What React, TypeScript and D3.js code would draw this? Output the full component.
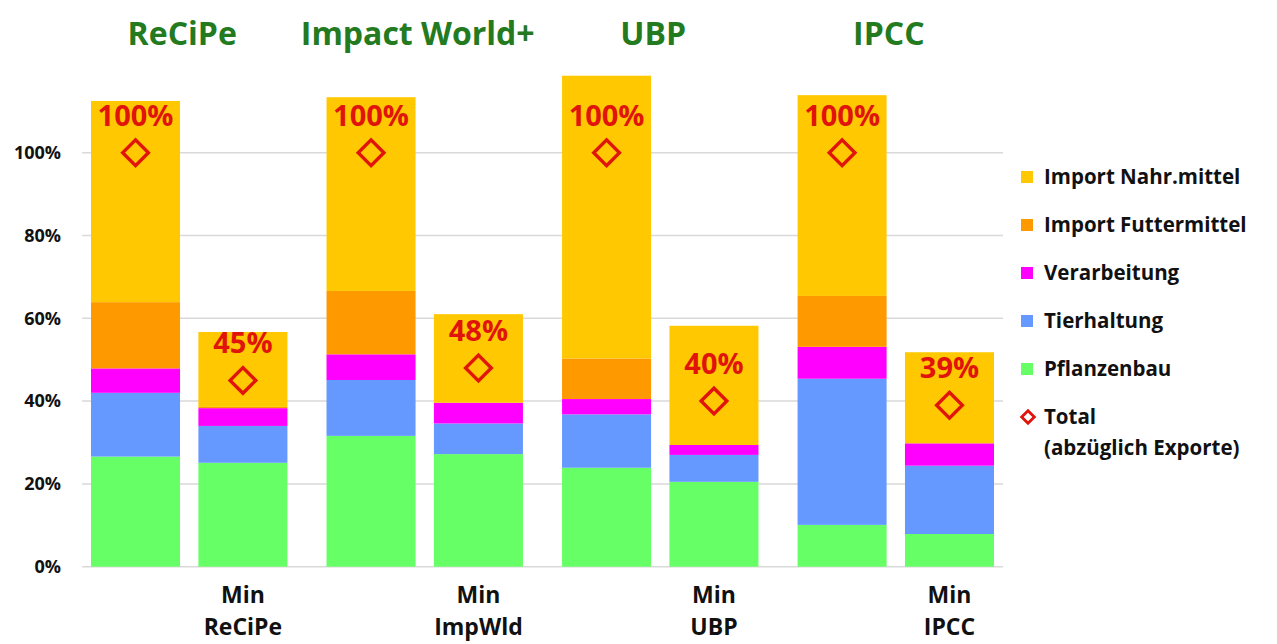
import * as d3 from "d3";

// Kategorien
const groups = ["ReCiPe", "Impact World+", "UBP", "IPCC"];
const minLabels = ["ReCiPe", "ImpWld", "UBP", "IPCC"];
const variants = ["Basis", "Min"];

// Werte in % (je Balken: ReCiPe, Min ReCiPe, ImpWld, Min ImpWld, UBP, Min UBP, IPCC, Min IPCC)
const pflanzenbau = [26.6, 25.1, 31.6, 27.2, 23.9, 20.5, 10.1, 7.9];
const tierhaltung = [15.4, 8.9, 13.5, 7.4, 12.9, 6.5, 35.3, 16.5];
const verarbeitung = [5.9, 4.3, 6.2, 5.0, 3.7, 2.4, 7.7, 5.4];
const importFutter = [16.0, 0.3, 15.3, 0, 9.8, 0, 12.3, 0];
const importNahr = [48.6, 18.1, 46.8, 21.4, 68.3, 28.8, 48.5, 22.0];
const total = [100, 45, 100, 48, 100, 40, 100, 39];

const yTicks = [0, 20, 40, 60, 80, 100];

const seriesNames = ["Pflanzenbau", "Tierhaltung", "Verarbeitung", "Import Futtermittel", "Import Nahr.mittel"];
const seriesColors = ["#66ff66", "#6699ff", "#ff00ff", "#ff9900", "#ffc800"];

const W = 1277;
const H = 644;
const font = "'Open Sans', sans-serif";

export default function App() {
  const rows = groups.flatMap((g, gi) =>
    variants.map((v, vi) => {
      const i = gi * 2 + vi;
      return {
        group: g,
        variant: v,
        Pflanzenbau: pflanzenbau[i],
        Tierhaltung: tierhaltung[i],
        Verarbeitung: verarbeitung[i],
        "Import Futtermittel": importFutter[i],
        "Import Nahr.mittel": importNahr[i],
        total: total[i],
      };
    })
  );

  const x0 = d3.scaleBand<string>().domain(groups).range([91, 994]).paddingInner(0.166).paddingOuter(0);
  const x1 = d3.scaleBand<string>().domain(variants).range([0, x0.bandwidth()]).paddingInner(0.171).paddingOuter(0);
  const y = d3.scaleLinear().domain([0, 120]).range([566.7, 566.7 - 4.14 * 120]);

  const stacked = d3.stack<any>().keys(seriesNames)(rows);
  const color = d3.scaleOrdinal<string, string>().domain(seriesNames).range(seriesColors);

  const bx = (d: any) => (x0(d.group) as number) + (x1(d.variant) as number);
  const bw = x1.bandwidth();

  const diamond = d3.symbol().type(d3.symbolSquare).size(330)();

  const legendItems = [...seriesNames].reverse();

  return (
    <svg width={W} height={H} style={{ position: "absolute", left: 0, top: 0, background: "#fff" }}>
      {/* Gitterlinien */}
      {yTicks.map((t) => (
        <g key={t}>
          <line x1={82} x2={1003} y1={y(t)} y2={y(t)} stroke="#d9d9d9" strokeWidth={1.5} />
          <text x={61} y={y(t)} dy="0.35em" textAnchor="end" fontFamily={font} fontWeight="bold" fontSize={18} fill="#111">
            {d3.format(".0%")(t / 100)}
          </text>
        </g>
      ))}

      {/* Balken */}
      {stacked.map((s) => (
        <g key={s.key} fill={color(s.key)}>
          {s.map((d, i) =>
            d[1] - d[0] > 0 ? (
              <rect key={i} x={bx(d.data)} width={bw} y={y(d[1])} height={y(d[0]) - y(d[1])} />
            ) : null
          )}
        </g>
      ))}

      {/* Total */}
      {rows.map((d, i) => (
        <g key={i} transform={`translate(${bx(d) + bw / 2},${y(d.total)})`}>
          <path d={diamond as string} transform="rotate(45)" fill="none" stroke="#e0140a" strokeWidth={3.4} />
          <text y={-27} textAnchor="middle" fontFamily={font} fontWeight="bold" fontSize={29} fill="#e0140a">
            {d.total}%
          </text>
        </g>
      ))}

      {/* Titel */}
      {groups.map((g) => (
        <text key={g} x={(x0(g) as number) + x0.bandwidth() / 2 - 7} y={45} textAnchor="middle" fontFamily={font} fontWeight="bold" fontSize={32} fill="#237a1f">
          {g}
        </text>
      ))}

      {/* Min-Beschriftungen */}
      {groups.map((g, gi) => {
        const cx = (x0(g) as number) + (x1("Min") as number) + bw / 2;
        return (
          <g key={g} fontFamily={font} fontWeight="bold" fontSize={23} fill="#111" textAnchor="middle">
            <text x={cx} y={603}>Min</text>
            <text x={cx} y={635}>{minLabels[gi]}</text>
          </g>
        );
      })}

      {/* Legende */}
      {legendItems.map((n, i) => (
        <g key={n} transform={`translate(1021,${177 + i * 48})`}>
          <rect x={0} y={-6} width={12} height={12} fill={color(n)} />
          <text x={23} dy="0.35em" fontFamily={font} fontWeight="bold" fontSize={20.5} fill="#111">
            {n}
          </text>
        </g>
      ))}
      <g transform={`translate(1028,${177 + 5 * 48})`}>
        <path d={d3.symbol().type(d3.symbolSquare).size(80)() as string} transform="rotate(45)" fill="none" stroke="#e0140a" strokeWidth={2.8} />
        <text x={16} dy="0.35em" fontFamily={font} fontWeight="bold" fontSize={20.5} fill="#111">
          Total
        </text>
        <text x={16} y={31} dy="0.35em" fontFamily={font} fontWeight="bold" fontSize={20.5} fill="#111">
          (abzüglich Exporte)
        </text>
      </g>
    </svg>
  );
}
